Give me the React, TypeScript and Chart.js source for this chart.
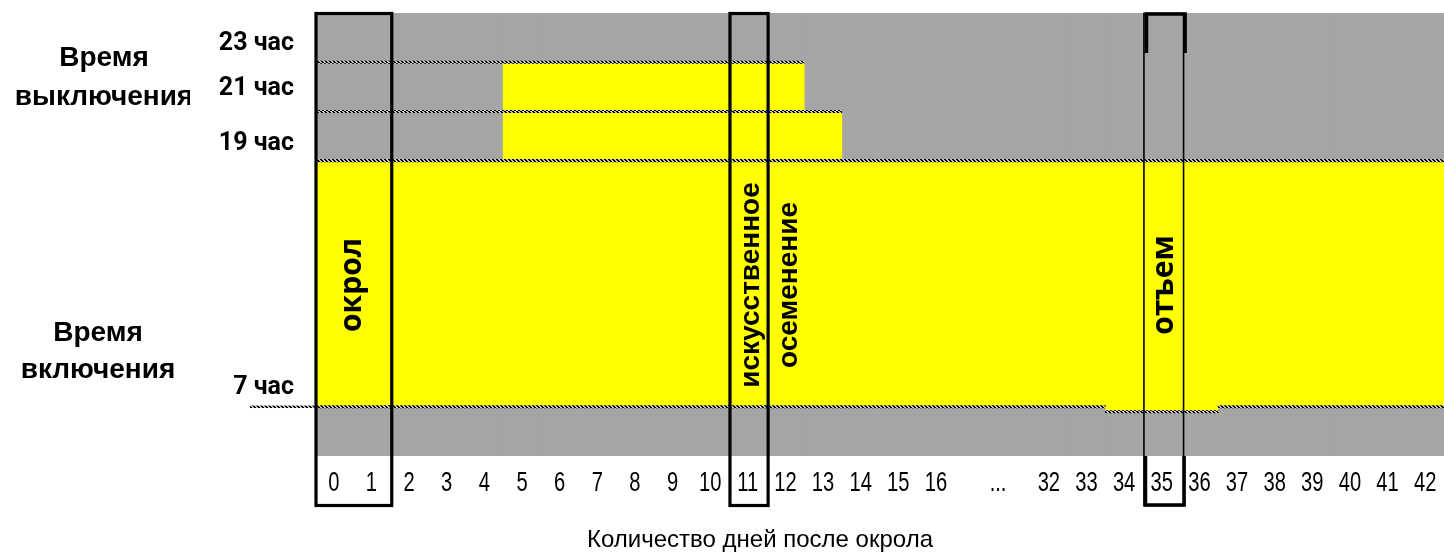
import React, { useEffect, useRef } from "react";
import { Chart, registerables } from "chart.js";

Chart.register(...registerables);

// ---- data ----
const days = ["0","1","2","3","4","5","6","7","8","9","10","11","12","13","14","15","16","","...","32","33","34","35","36","37","38","39","40","41","42"];
const nightStart = [5,5,5,5,5,5,5,5,5,5,5,5,5,5,5,5,5,5,5,5,5,5,5,5,5,5,5,5,5,5];
const nightEnd = [23,23,23,23,23,23,23,23,23,23,23,23,23,23,23,23,23,23,23,23,23,23,23,23,23,23,23,23,23,23];
const lightsOn = [7,7,7,7,7,7,7,7,7,7,7,7,7,7,7,7,7,7,7,7,7,6.8,6.8,6.8,7,7,7,7,7,7];
const lightsOff = [17,17,17,17,17,21,21,21,21,21,21,21,21,19,17,17,17,17,17,17,17,17,17,17,17,17,17,17,17,17];
const guide21 = [21,21,21,21,21,21,21,21,21,21,21,21,21,null,null,null,null,null,null,null,null,null,null,null,null,null,null,null,null,null];
const guide19 = [19,19,19,19,19,19,19,19,19,19,19,19,19,19,null,null,null,null,null,null,null,null,null,null,null,null,null,null,null,null];
const guide17 = [17,17,17,17,17,17,17,17,17,17,17,17,17,17,17,17,17,17,17,17,17,17,17,17,17,17,17,17,17,17];
const hourTickLabels = ["23 час", "21 час", "19 час", "7 час"];
const hourTickValues = [21.74, 19.91, 17.68, 7.78];
const boxedDays = [["0", "1"], ["11", "11"], ["35", "35"]];
const eventTexts = ["окрол", "искусственное", "осеменение", "отъем"];
const eventDays = ["0", "11", "12", "35"];
const sideLabelLines = ["Время", "выключения", "Время", "включения"];
const xAxisTitle = "Количество дней после окрола";

// ---- layout / style ----
const LAYOUT = {
  boxStyles: ["thick", "thick", "split"],
  eventShift: [0.5, 0.1, 0.1, 0.06],
  eventHour: 11.95,
  eventFonts: [
    "bold 30px 'Open Sans', 'Liberation Sans', sans-serif",
    "bold 28px 'Liberation Sans', Arial, sans-serif",
    "bold 28px 'Liberation Sans', Arial, sans-serif",
    "bold 30px 'Open Sans', 'Liberation Sans', sans-serif",
  ],
  sideX: [104, 104, 98, 98],
  sideHour: [21.17, 19.59, 10.0, 8.49],
  sideClip: 190,
  lineStubLeft: 250,
  titleX: 760,
  titleY: 540,
  tickGap: 27,
  tickSqueeze: 0.72,
  ellipsisShift: -0.35,
};

const GREY = "#A5A5A5";
const YELLOW = "#FFFF00";

function makeHatch(): CanvasPattern | string {
  const c = document.createElement("canvas");
  c.width = 4;
  c.height = 3;
  const g = c.getContext("2d");
  if (!g) return "#333";
  g.fillStyle = "#c8c8c8";
  g.fillRect(0, 0, 4, 3);
  g.fillStyle = "#000";
  g.fillRect(0, 0, 2, 1);
  g.fillRect(1, 1, 2, 1);
  g.fillRect(2, 2, 2, 1);
  return g.createPattern(c, "repeat") || "#333";
}

export default function App() {
  const ref = useRef<HTMLCanvasElement>(null);

  useEffect(() => {
    const canvas = ref.current;
    if (!canvas) return;
    const hatch = makeHatch();

    const band = {
      grouped: false,
      barPercentage: 1,
      categoryPercentage: 1,
      borderWidth: 0,
      borderSkipped: false,
    };
    const guideData = (arr: (number | null)[]) =>
      arr.map((v) => (v == null ? null : [v - 0.05, v + 0.05]));

    const overlay = {
      id: "overlay",
      afterDraw(chart: any) {
        const { ctx, chartArea } = chart;
        const xs = chart.scales.x;
        const ys = chart.scales.y;
        const step = xs.getPixelForValue(1) - xs.getPixelForValue(0);
        const px = (day: string, shift = 0) => xs.getPixelForValue(days.indexOf(day)) + shift * step;

        ctx.save();
        // stub of the 7 h line into the label area
        const yt = ys.getPixelForValue(lightsOn[0] + 0.05);
        const yb = ys.getPixelForValue(lightsOn[0] - 0.05);
        ctx.fillStyle = hatch;
        ctx.fillRect(LAYOUT.lineStubLeft, yt, chartArea.left - LAYOUT.lineStubLeft, yb - yt);

        // x tick labels (condensed) at the category positions of the x scale
        ctx.fillStyle = "#000";
        ctx.textAlign = "center";
        ctx.textBaseline = "middle";
        ctx.font = "28px 'Liberation Sans', Arial, sans-serif";
        days.forEach((d, i) => {
          if (!d) return;
          const cx = xs.getPixelForValue(i) + (d === "..." ? LAYOUT.ellipsisShift * step : 0);
          ctx.save();
          ctx.translate(cx, chartArea.bottom + LAYOUT.tickGap);
          ctx.scale(LAYOUT.tickSqueeze, 1);
          ctx.fillText(d, 0, 0);
          ctx.restore();
        });

        // rotated event labels
        eventTexts.forEach((t, i) => {
          ctx.save();
          ctx.translate(px(eventDays[i], LAYOUT.eventShift[i]), ys.getPixelForValue(LAYOUT.eventHour));
          ctx.rotate(-Math.PI / 2);
          ctx.font = LAYOUT.eventFonts[i];
          ctx.fillText(t, 0, 0);
          ctx.restore();
        });

        // boxes
        const top = chartArea.top - 1;
        const bottom = chartArea.bottom + 51;
        ctx.strokeStyle = "#000";
        boxedDays.forEach(([a, b], i) => {
          const x1 = px(a) - step / 2;
          const x2 = px(b) + step / 2;
          if (LAYOUT.boxStyles[i] === "thick") {
            ctx.lineWidth = 3.2;
            ctx.strokeRect(x1 + 1, top + 1.5, x2 - x1 + 0.5, bottom - top - 3);
          } else {
            ctx.lineWidth = 1.6;
            ctx.strokeRect(x1 + 1, top + 1.5, x2 - x1 + 2, bottom - top - 3);
            ctx.lineWidth = 3.6;
            ctx.beginPath();
            ctx.moveTo(x1 + 3.5, top + 41);
            ctx.lineTo(x1 + 3.5, top + 2);
            ctx.lineTo(x2 + 4.5, top + 2);
            ctx.lineTo(x2 + 4.5, top + 41);
            ctx.stroke();
            ctx.beginPath();
            ctx.moveTo(x1 + 2.5, chartArea.bottom);
            ctx.lineTo(x1 + 2.5, bottom - 2);
            ctx.lineTo(x2 + 3.5, bottom - 2);
            ctx.lineTo(x2 + 3.5, chartArea.bottom);
            ctx.stroke();
          }
        });

        // side labels
        ctx.save();
        ctx.beginPath();
        ctx.rect(0, 0, LAYOUT.sideClip, chart.height);
        ctx.clip();
        ctx.font = "bold 28px 'Liberation Sans', Arial, sans-serif";
        ctx.fillStyle = "#000";
        sideLabelLines.forEach((line, i) => {
          ctx.fillText(line, LAYOUT.sideX[i], ys.getPixelForValue(LAYOUT.sideHour[i]));
        });
        ctx.restore();

        // x axis title
        ctx.font = "24px 'Liberation Sans', Arial, sans-serif";
        ctx.fillStyle = "#000";
        ctx.textAlign = "center";
        ctx.textBaseline = "middle";
        ctx.fillText(xAxisTitle, LAYOUT.titleX, LAYOUT.titleY);
        ctx.restore();
      },
    };

    const chart = new Chart(canvas, {
      type: "bar",
      data: {
        labels: days,
        datasets: [
          { label: "темнота", data: days.map((_, i) => [nightStart[i], nightEnd[i]]), backgroundColor: GREY, order: 3, ...band } as any,
          { label: "свет", data: days.map((_, i) => [lightsOn[i], lightsOff[i]]), backgroundColor: YELLOW, order: 2, ...band } as any,
          { label: "21", data: guideData(guide21), backgroundColor: hatch, order: 1, ...band } as any,
          { label: "19", data: guideData(guide19), backgroundColor: hatch, order: 1, ...band } as any,
          { label: "17", data: guideData(guide17), backgroundColor: hatch, order: 1, ...band } as any,
          { label: "7", data: guideData(lightsOn), backgroundColor: hatch, order: 1, ...band } as any,
        ],
      },
      options: {
        responsive: false,
        animation: false,
        layout: { padding: { top: 13, right: 0, left: 0, bottom: 0 } },
        plugins: {
          legend: { display: false },
          tooltip: { enabled: false },
          title: { display: false },
        },
        scales: {
          x: {
            type: "category",
            grid: { display: false, drawTicks: false },
            border: { display: false },
            ticks: { display: false, autoSkip: false, maxRotation: 0, minRotation: 0 },
            afterFit: (s: any) => {
              s.height = 100;
              s.paddingLeft = 0;
              s.paddingRight = 0;
            },
          },
          y: {
            min: 5,
            max: 23,
            grid: { display: false, drawTicks: false },
            border: { display: false },
            afterBuildTicks: (s: any) => {
              s.ticks = hourTickValues.map((v) => ({ value: v }));
            },
            ticks: {
              padding: 21,
              color: "#000",
              font: { family: "Roboto, 'Liberation Sans', sans-serif", weight: "bold", size: 25 },
              callback: (v: any) => {
                const i = hourTickValues.indexOf(Number(v));
                return i >= 0 ? hourTickLabels[i] : "";
              },
            },
            afterFit: (s: any) => {
              s.width = 315;
              s.paddingTop = 0;
              s.paddingBottom = 0;
            },
          },
        },
      } as any,
      plugins: [overlay],
    });

    return () => chart.destroy();
  }, []);

  return (
    <div style={{ position: "fixed", left: 0, top: 0, width: 1444, height: 556, background: "#fff" }}>
      <canvas ref={ref} width={1444} height={556} style={{ display: "block", width: 1444, height: 556 }} />
    </div>
  );
}
